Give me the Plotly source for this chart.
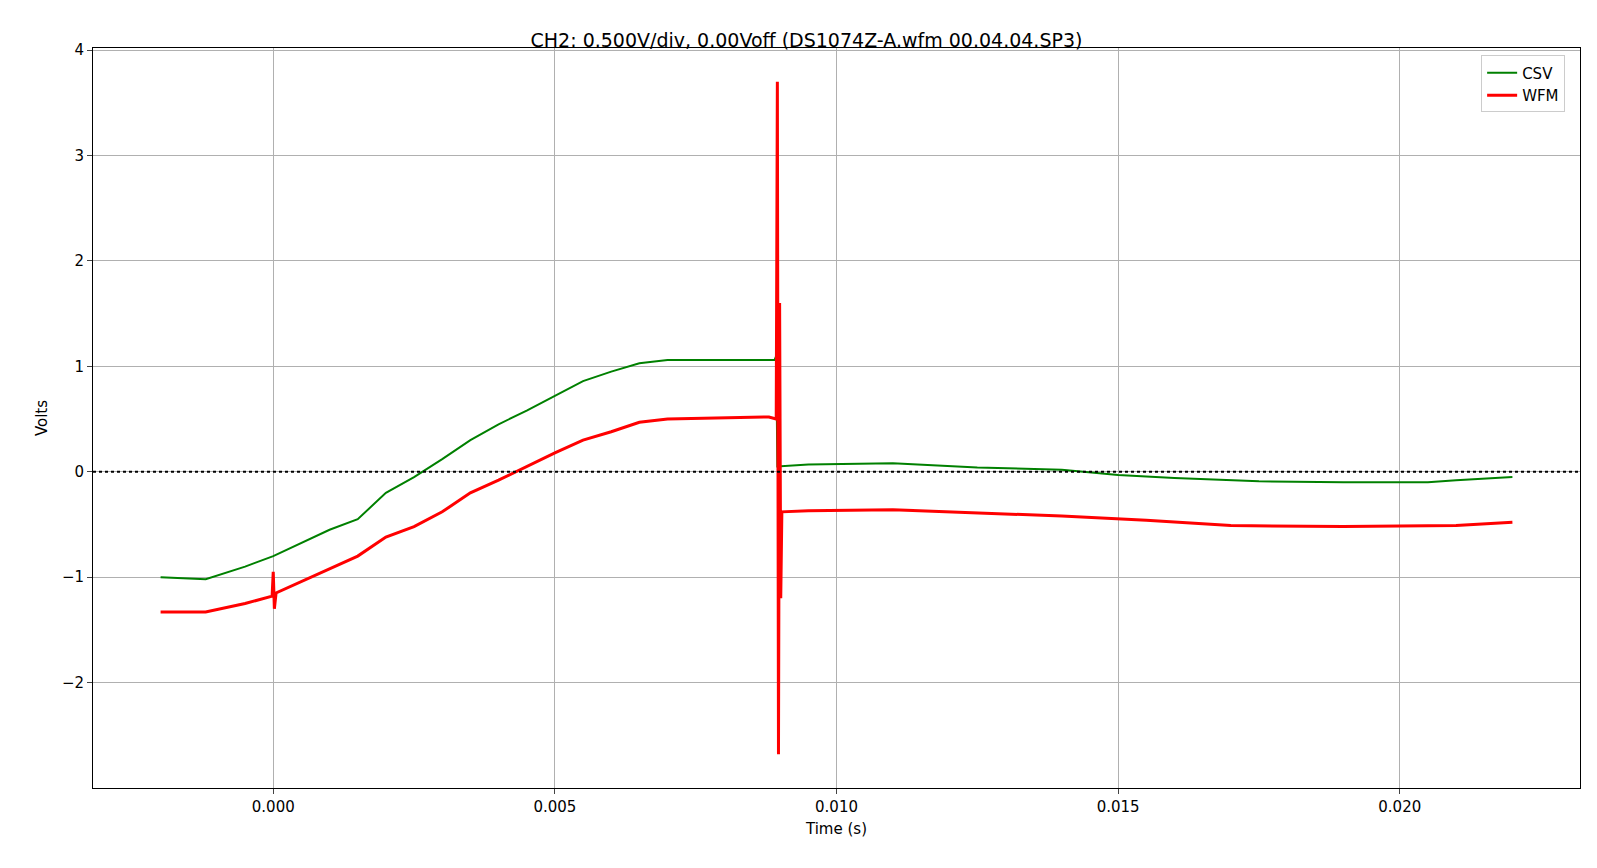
import plotly.graph_objects as go

# breakpoints
csv_t = [-0.002, -0.0012, -0.0005, 0.0, 0.001, 0.0015, 0.002, 0.0025, 0.003, 0.0035, 0.004,
         0.0045, 0.005, 0.0055, 0.006, 0.0065, 0.007, 0.0089, 0.00893, 0.00895, 0.0095, 0.011,
         0.0125, 0.014, 0.015, 0.016, 0.0175, 0.019, 0.0205, 0.021, 0.022]
csv_v = [-1.0, -1.02, -0.9, -0.8, -0.55, -0.45, -0.2, -0.05, 0.12, 0.3, 0.45,
         0.58, 0.72, 0.86, 0.95, 1.03, 1.06, 1.06, 1.1, 0.05, 0.07, 0.08,
         0.04, 0.02, -0.03, -0.06, -0.09, -0.1, -0.1, -0.08, -0.05]

wfm_t = [-0.002, -0.0012, -0.0005, -0.00002, 0.0, 0.00002, 0.00005, 0.001, 0.0015, 0.002,
         0.0025, 0.003, 0.0035, 0.004, 0.0045, 0.005, 0.0055, 0.006, 0.0065, 0.007, 0.0088,
         0.00893, 0.00895, 0.00897, 0.00899, 0.00901, 0.00903, 0.0095, 0.011, 0.0125, 0.014,
         0.0155, 0.017, 0.019, 0.021, 0.022]
wfm_v = [-1.33, -1.33, -1.25, -1.18, -0.95, -1.3, -1.15, -0.92, -0.8, -0.62,
         -0.52, -0.38, -0.2, -0.08, 0.05, 0.18, 0.3, 0.38, 0.47, 0.5, 0.52,
         0.5, 3.7, -2.68, 1.6, -1.2, -0.38, -0.37, -0.36, -0.39, -0.42,
         -0.46, -0.51, -0.52, -0.51, -0.48]

fig = go.Figure()
fig.add_trace(go.Scatter(x=csv_t, y=csv_v, mode="lines", name="CSV",
                         line=dict(color="green", width=2)))
fig.add_trace(go.Scatter(x=wfm_t, y=wfm_v, mode="lines", name="WFM",
                         line=dict(color="red", width=3)))
fig.add_hline(y=0, line=dict(color="black", dash="dot", width=2))

ax = dict(showline=True, linecolor="black", mirror=True, ticks="outside",
          gridcolor="#b0b0b0", zeroline=False, tickfont=dict(size=15))
fig.update_layout(
    width=1597, height=868, plot_bgcolor="white", paper_bgcolor="white",
    font=dict(family="DejaVu Sans", size=16, color="black"),
    title=dict(text="CH2: 0.500V/div, 0.00Voff (DS1074Z-A.wfm 00.04.04.SP3)",
               x=0.5, xanchor="center", y=0.97, font=dict(size=19)),
    margin=dict(l=85, r=25, t=40, b=88),
    legend=dict(x=0.99, y=0.99, xanchor="right", yanchor="top",
                bordercolor="#cccccc", borderwidth=1, font=dict(size=15)),
    xaxis=dict(ax, title=dict(text="Time (s)", font=dict(size=15), standoff=8),
               range=[-0.0032, 0.0232],
               tickvals=[0, 0.005, 0.01, 0.015, 0.02],
               ticktext=["0.000", "0.005", "0.010", "0.015", "0.020"]),
    yaxis=dict(ax, title=dict(text="Volts", font=dict(size=15), standoff=10),
               range=[-3.0, 4.02], tickvals=[-2, -1, 0, 1, 2, 3, 4],
               ticktext=["\u22122", "\u22121", "0", "1", "2", "3", "4"]),
)
fig.write_html("out.html")
